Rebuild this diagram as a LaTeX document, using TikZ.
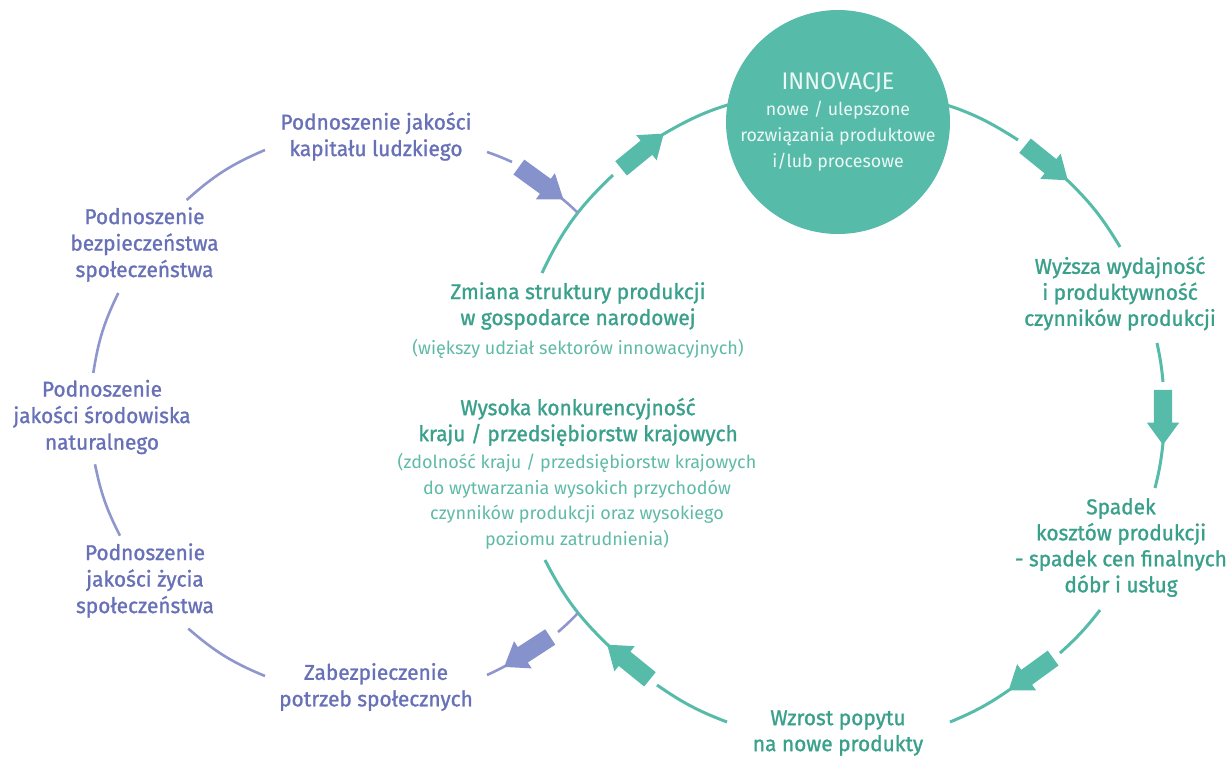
\documentclass[tikz,border=0pt]{standalone}
\usepackage{fontspec}
\setmainfont{Fira Sans}
\newfontfamily\medfont{Fira Sans}[FakeBold=1.2, FakeStretch=0.97]
\newfontfamily\capfont{Fira Sans}[FakeStretch=0.97]
\usetikzlibrary{shapes.arrows}
\definecolor{tealc}{RGB}{87,187,170}
\definecolor{tealtext}{RGB}{58,160,140}
\definecolor{teallight}{RGB}{95,186,167}
\definecolor{purpc}{RGB}{142,150,205}
\definecolor{purparrow}{RGB}{133,146,203}
\definecolor{purptext}{RGB}{104,113,183}
\definecolor{whitetext}{RGB}{236,248,245}
\begin{document}
\begin{tikzpicture}[x=1pt,y=-1pt,
  tlabel/.style={align=center, text=tealtext, font=\medfont\fontsize{21.5}{26}\selectfont, inner sep=0pt},
  tsmall/.style={align=center, text=teallight, font=\fontsize{18}{25.5}\selectfont, inner sep=0pt},
  plabel/.style={align=center, text=purptext, font=\medfont\fontsize{21.5}{26.5}\selectfont, inner sep=0pt},
  tarc/.style={draw=tealc, line width=3pt},
  parc/.style={draw=purpc, line width=2.6pt},
  blockarrow/.style={single arrow, minimum height=55pt, inner sep=9pt, single arrow head extend=7pt, single arrow tip angle=72, draw=none},
  tarrow/.style={blockarrow, fill=tealc},
  parrow/.style={blockarrow, fill=purparrow},
]
\useasboundingbox (0,0) rectangle (1229,758);

% teal cycle arcs (clockwise)
\draw[tarc] (542,273) to[bend left=10.6] (613,175);
\draw[tarc] (662,135) to[bend left=8.6] (753.4,98.1);
\draw[tarc] (922.6,98.1) to[bend left=9.15] (1018,140);
\draw[tarc] (1065,178) to[bend left=7.75] (1120,247);
\draw[tarc] (1157,343) to[bend left=3.45] (1163,382);
\draw[tarc] (1163,443) to[bend left=4] (1155,488);
\draw[tarc] (1100,610) to[bend left=5.15] (1060,653);
\draw[tarc] (1012,688) to[bend left=6.2] (950,722);
\draw[tarc] (727,722) to[bend left=6.95] (657,685);
\draw[tarc] (610,647) to[bend left=9.55] (545,560);

% purple cycle arcs (clockwise)
\draw[parc] (487,152) to[bend left=2.7] (512,162);
\draw[parc] (560,197) to[bend left=2.45] (578,213);
\draw[parc] (186.7,200) to[bend left=9.5] (265,150);
\draw[parc] (93.3,373) to[bend left=8.6] (118.3,293);
\draw[parc] (120,535.7) to[bend left=7.75] (95,464.3);
\draw[parc] (265,676) to[bend left=9.3] (188.3,628.6);
\draw[parc] (507,665) to[bend left=2.2] (487,675);
\draw[parc] (578,613) to[bend left=2.7] (558,632);

% block arrows
\node[tarrow, rotate=39.2] (a1) at (637.5,155) {};
\node[tarrow, rotate=-39] (a2) at (1041.5,159) {};
\node[tarrow, rotate=-90] (a3) at (1163,411) {};
\node[tarrow, rotate=216] (a4) at (1036,670.5) {};
\node[tarrow, rotate=141] (a5) at (633.5,666) {};
\node[parrow, rotate=-36] (b1) at (536,179.5) {};
\node[parrow, rotate=213] (b2) at (532.5,648.5) {};

% innovation circle
\node[circle, fill=tealc, minimum size=224pt, inner sep=0pt] (innov) at (838,122) {};
\node[text=whitetext, font=\capfont\fontsize{24}{26}\selectfont, inner sep=0pt] (inn) at (838,83) {INNOVACJE};
\node[align=center, text=whitetext, font=\fontsize{17.8}{25.8}\selectfont, inner sep=0pt] (innd) at (838,136) {nowe / ulepszone\\rozwiązania produktowe\\i/lub procesowe};

% purple labels
\node[plabel] (kap) at (376,136.5) {Podnoszenie jakości\\kapitału ludzkiego};
\node[plabel] (bez) at (144.5,244.5) {Podnoszenie\\bezpieczeństwa\\społeczeństwa};
\node[plabel] (sro) at (102,417) {Podnoszenie\\jakości środowiska\\naturalnego};
\node[plabel] (zyc) at (145,580.5) {Podnoszenie\\jakości życia\\społeczeństwa};
\node[plabel] (zab) at (376,687) {Zabezpieczenie\\potrzeb społecznych};

% teal labels
\node[tlabel] (zmi) at (578,306) {Zmiana struktury produkcji\\w gospodarce narodowej};
\node[tsmall] (zmis) at (578,349) {(większy udział sektorów innowacyjnych)};
\node[tlabel] (wys) at (578,422) {Wysoka konkurencyjność\\kraju / przedsiębiorstw krajowych};
\node[tsmall] (wyss) at (577,501.5) {(zdolność kraju / przedsiębiorstw krajowych\\do wytwarzania wysokich przychodów\\czynników produkcji oraz wysokiego\\poziomu zatrudnienia)};
\node[tlabel] (wyd) at (1120,293.5) {Wyższa wydajność\\i produktywność\\czynników produkcji};
\node[tlabel] (spa) at (1121,547.5) {Spadek\\kosztów produkcji\\- spadek cen finalnych\\dóbr i usług};
\node[tlabel] (wzr) at (838,733) {Wzrost popytu\\na nowe produkty};
\end{tikzpicture}
\end{document}
